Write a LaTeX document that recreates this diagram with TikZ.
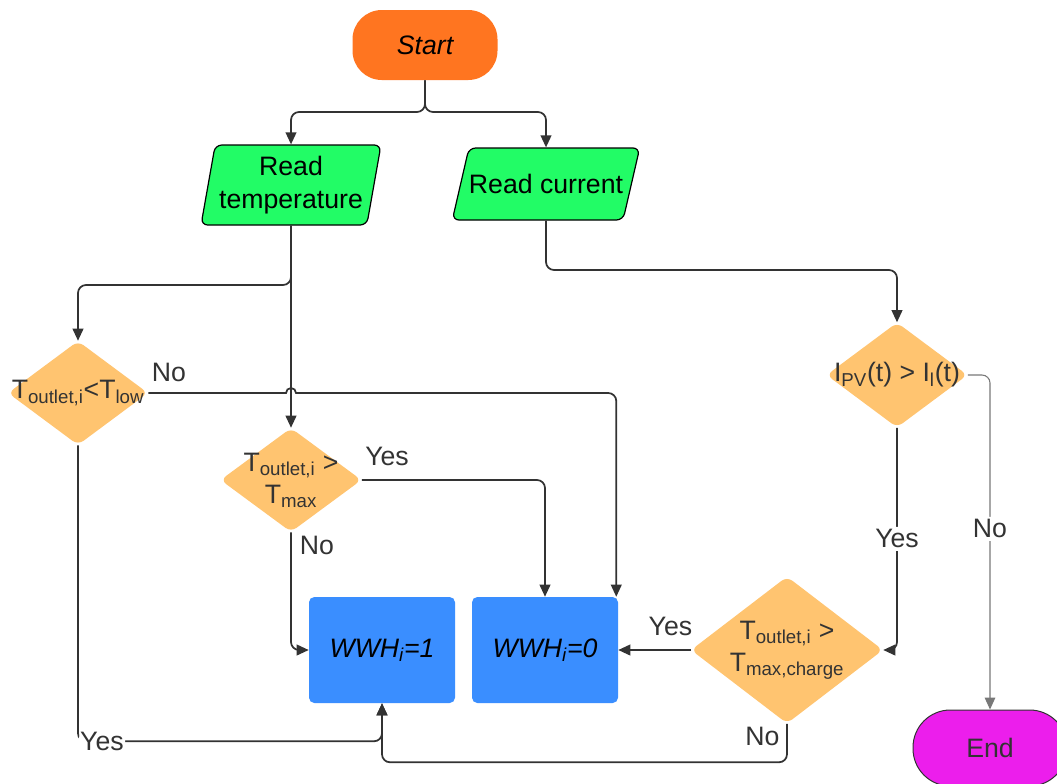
\documentclass[tikz,border=0pt]{standalone}
\usepackage{fontspec}
\setmainfont{Liberation Sans}
\usetikzlibrary{shapes.geometric, arrows.meta, calc}
\definecolor{startorange}{RGB}{255,117,32}
\definecolor{readgreen}{RGB}{34,252,102}
\definecolor{decorange}{RGB}{255,196,112}
\definecolor{setblue}{RGB}{58,142,255}
\definecolor{endpink}{RGB}{236,30,236}
\definecolor{linegray}{RGB}{51,51,51}
\definecolor{textgray}{RGB}{51,51,51}
\definecolor{thingray}{RGB}{120,120,120}
\tikzset{
  terminal/.style={rectangle, rounded corners=22pt, minimum width=108.75pt,
    minimum height=52.5pt, font=\fontsize{20}{24}\selectfont},
  readbox/.style={trapezium, trapezium left angle=77, trapezium right angle=103,
    trapezium stretches=true, draw=black, line width=0.9pt, fill=readgreen,
    rounded corners=5pt, align=center, inner sep=0pt,
    font=\fontsize{20}{25}\selectfont},
  decision/.style={diamond, fill=decorange, rounded corners=5pt, inner sep=0pt},
  dectext/.style={align=center, text=textgray, inner sep=0pt,
    font=\fontsize{20}{24}\selectfont},
  setbox/.style={rectangle, fill=setblue, rounded corners=4pt, minimum width=109.5pt,
    minimum height=79.5pt, font=\fontsize{20}{24}\selectfont\itshape},
  conn/.style={-{Triangle[length=9pt,width=8pt]}, line width=1.3pt, draw=linegray,
    rounded corners=6pt},
  thinconn/.style={conn, line width=0.8pt, draw=thingray},
  lbl/.style={text=textgray, inner sep=2pt, font=\fontsize{20}{24}\selectfont}
}
\begin{document}
\begin{tikzpicture}[x=0.75pt, y=-0.75pt]
  \clip (0,0) rectangle (1057,783);
  \fill[white] (0,0) rectangle (1057,783);

  % terminals and inputs
  \node[terminal, fill=startorange, font=\fontsize{20}{24}\selectfont\itshape] (start) at (425,45) {Start};
  \node[readbox, minimum width=135pt, minimum height=60pt] (rt) at (291,185) {Read\\temperature};
  \node[readbox, minimum width=130pt, text height=34pt, text depth=20pt] (rc) at (546,184) {Read current};

  % decisions
  \node[decision, minimum width=105pt, minimum height=78pt] (d1) at (78,393) {};
  \node[dectext] (d1t) at (d1) {T\textsubscript{outlet,i}<T\textsubscript{low}};
  \node[decision, minimum width=105.75pt, minimum height=78pt] (d2) at (291,480) {};
  \node[dectext] (d2t) at (d2) {T\textsubscript{outlet,i} >\\T\textsubscript{max}};
  \node[decision, minimum width=105.75pt, minimum height=78.75pt] (d3) at (897,375) {};
  \node[dectext] (d3t) at (d3) {I\textsubscript{PV}(t) > I\textsubscript{l}(t)};
  \node[decision, minimum width=144pt, minimum height=110.25pt] (d4) at (787,650) {};
  \node[dectext] (d4t) at (d4) {T\textsubscript{outlet,i} >\\T\textsubscript{max,charge}};

  % outputs
  \node[setbox] (w1) at (382,650) {WWH\textsubscript{i}=1};
  \node[setbox] (w0) at (545,650) {WWH\textsubscript{i}=0};
  \node[terminal, fill=endpink, draw=linegray, line width=0.75pt, minimum width=115.5pt,
    minimum height=57pt, rounded corners=28pt, text=textgray] (stop) at (990,748) {End};

  % helper levels
  \coordinate (fk) at (425,112);
  \coordinate (rtj) at (0,285);
  \coordinate (rcj) at (0,270);

  % connectors
  \draw[conn] (start.south) |- (rt.north |- fk) -- (rt.north);
  \draw[conn] (start.south) |- (rc.north |- fk) -- (rc.north);
  \draw[conn] (rt.south) |- (d1.north |- rtj) -- (d1.north);
  \draw[conn] (rt.south) -- (d2.north);
  \draw[conn] (rc.south) |- (d3.north |- rcj) -- (d3.north);

  \draw[conn, sharp corners] (d1.east) node[lbl, above right, yshift=6pt] (l1) {No}
    -- ($(d1.east -| rt.south)+(-5,0)$) arc[start angle=180, end angle=0, radius=3.75pt]
    [rounded corners=6pt] -| ($(w0.north east)+(-2,0)$);
  \draw[conn] (d1.south) |- node[lbl, pos=0.5, anchor=west, fill=white, inner sep=1pt] (l2) {Yes}
    ($(w1.south)+(0,38)$) -- (w1.south);
  \draw[conn] (d2.east) node[lbl, above right, yshift=8pt] (l3) {Yes} -| (w0.north);
  \draw[conn] (d2.south) node[lbl, below right, xshift=4pt] (l4) {No} |- (w1.west);
  \draw[conn] (d3.south) |- node[lbl, pos=0.25, fill=white] (l5) {Yes} (d4.east);
  \draw[thinconn] (d3.east) -| node[lbl, pos=0.73, fill=white] (l6) {No} (stop.north);
  \draw[conn] (d4.west) -- node[lbl, pos=0.28, above=8pt] (l7) {Yes} (w0.east);
  \draw[conn] (d4.south) node[lbl, below left, xshift=-3pt] (l8) {No}
    |- ($(w1.south)+(0,59)$) -- (w1.south);
\end{tikzpicture}
\end{document}
